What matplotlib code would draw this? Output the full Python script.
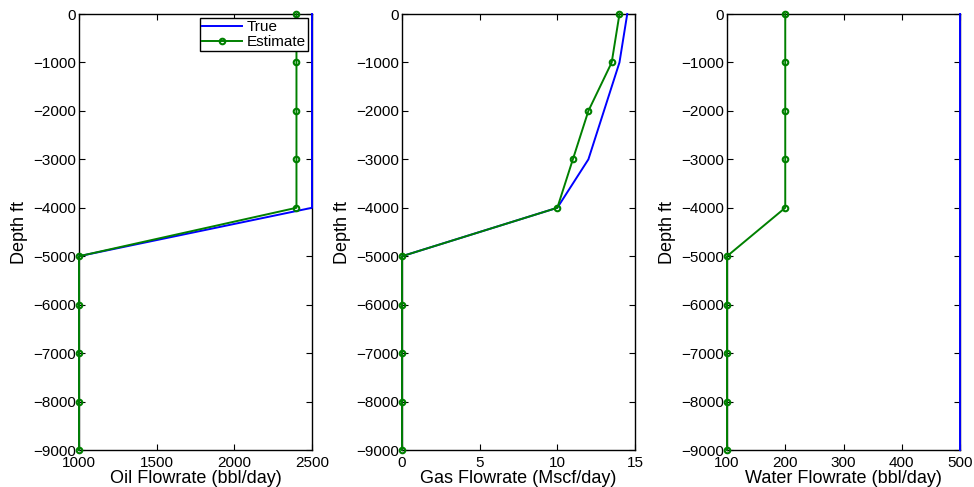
import numpy as np
import matplotlib.pyplot as plt

plt.rcParams['font.family'] = ['Liberation Sans', 'DejaVu Sans']

depth = [0, -1000, -2000, -3000, -4000, -5000, -6000, -7000, -8000, -9000]

oil_true = [2500, 2500, 2500, 2500, 2500, 1000, 1000, 1000, 1000, 1000]
oil_est = [2400, 2400, 2400, 2400, 2400, 1000, 1000, 1000, 1000, 1000]

gas_true = [14.5, 14, 13, 12, 10, 0, 0, 0, 0, 0]
gas_est = [14, 13.5, 12, 11, 10, 0, 0, 0, 0, 0]

water_true = [500, 500, 500, 500, 500, 500, 500, 500, 500, 500]
water_est = [200, 200, 200, 200, 200, 100, 100, 100, 100, 100]

panels = [
    (oil_true, oil_est, (1000, 2500), [1000, 1500, 2000, 2500], 'Oil Flowrate (bbl/day)'),
    (gas_true, gas_est, (0, 15), [0, 5, 10, 15], 'Gas Flowrate (Mscf/day)'),
    (water_true, water_est, (100, 500), [100, 200, 300, 400, 500], 'Water Flowrate (bbl/day)'),
]

fig = plt.figure(figsize=(9.74, 4.87), dpi=100)
lefts = [79, 402, 727]
width = 233
for i, (tr, est, xlim, xt, xlabel) in enumerate(panels):
    ax = fig.add_axes([lefts[i] / 974, (487 - 450) / 487, width / 974, (450 - 14) / 487])
    ax.plot(tr, depth, color='#0000ff', linewidth=1.4, label='True', clip_on=False, zorder=5)
    ax.plot(est, depth, color='#008000', linewidth=1.4, marker='o', markersize=4,
            markerfacecolor='none', markeredgewidth=1.5, label='Estimate', clip_on=False, zorder=6)
    ax.set_xlim(*xlim)
    ax.set_ylim(-9000, 0)
    ax.set_xticks(xt)
    ax.set_yticks(depth)
    ax.tick_params(direction='in', top=True, right=True, labelsize=11, length=4)
    ax.tick_params(axis='x', pad=4)
    ax.tick_params(axis='y', pad=2)
    ax.set_xlabel(xlabel, fontsize=13, labelpad=0)
    ax.set_ylabel('Depth ft', fontsize=13, labelpad=4)
    for s in ax.spines.values():
        s.set_linewidth(1.0)
    if i == 0:
        leg = ax.legend(loc='upper right', fontsize=11, fancybox=False, framealpha=1,
                        edgecolor='black', borderpad=0.15, handlelength=2.6,
                        handletextpad=0.3, labelspacing=0.05, borderaxespad=0.25)
        leg.get_frame().set_linewidth(1.0)
        leg.set_zorder(10)

fig.savefig('out.png', dpi=100)
